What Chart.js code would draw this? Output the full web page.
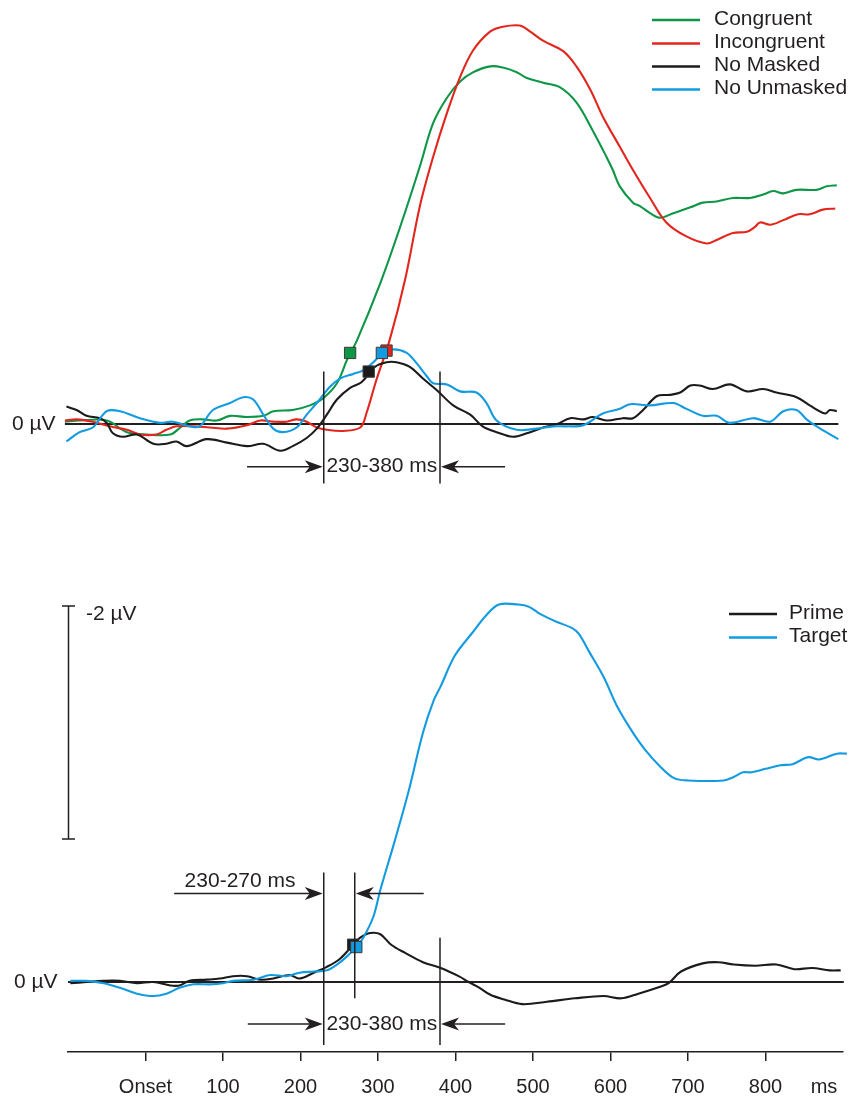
<!DOCTYPE html>
<html>
<head>
<meta charset="utf-8">
<title>ERP waveforms</title>
<script src="https://cdn.jsdelivr.net/npm/chart.js@4.4.1/dist/chart.umd.min.js"></script>
<style>
  html, body { margin: 0; padding: 0; background: #ffffff; }
  #wrap { position: relative; width: 850px; height: 1098px; }
  canvas { display: block; }
</style>
</head>
<body>
<div id="wrap"><canvas id="erp" width="850" height="1098"></canvas></div>
<script>
// ---- Upper panel: masked / unmasked prime conditions (time in ms, amplitude in µV, negative up)
const congruentMs = [-104,-85,-50,-24,2,32,45,57,74,92,109,131,152,165,190,212,229,247,260,273,303,328,354,371,389,406,423,445,461,479,492,513,535,556,577,595,603,612,629,638,651,664,681,703,719,737,758,780,797,810,823,840,866,879,892];
const congruentUv = [-0.02,-0.03,-0.03,0.07,0.09,0.09,0.03,-0.03,-0.04,-0.03,-0.07,-0.06,-0.07,-0.11,-0.12,-0.16,-0.22,-0.35,-0.55,-0.72,-1.21,-1.68,-2.21,-2.58,-2.80,-2.94,-3.02,-3.07,-3.06,-3.02,-2.97,-2.93,-2.89,-2.76,-2.52,-2.29,-2.18,-2.04,-1.90,-1.87,-1.81,-1.77,-1.81,-1.86,-1.90,-1.91,-1.94,-1.94,-1.97,-2.00,-1.98,-2.01,-2.01,-2.04,-2.05];

const incongruentMs = [-104,-89,-68,-46,-24,-7,14,27,40,61,83,105,131,148,165,182,195,208,221,234,255,277,285,298,315,335,354,371,389,406,423,445,461,483,496,513,539,556,574,590,612,629,651,672,698,724,737,758,776,786,793,806,823,842,857,874,890];
const incongruentUv = [-0.03,-0.04,-0.02,0.02,0.05,0.09,0.09,0.05,0.02,0.02,0.03,0.04,0.01,-0.03,-0.02,-0.02,-0.04,-0.02,0.03,0.05,0.06,0.03,-0.09,-0.38,-0.72,-1.24,-1.87,-2.29,-2.67,-2.98,-3.21,-3.37,-3.41,-3.42,-3.37,-3.29,-3.20,-3.07,-2.87,-2.64,-2.38,-2.18,-1.94,-1.73,-1.61,-1.55,-1.58,-1.64,-1.65,-1.69,-1.73,-1.71,-1.75,-1.80,-1.80,-1.84,-1.85];

const noMaskedMs = [-102,-89,-76,-59,-50,-42,-29,-11,10,27,40,53,79,105,131,152,174,190,208,221,234,247,264,279,296,311,324,341,358,376,397,419,435,453,474,492,513,531,548,565,577,595,616,629,642,660,677,690,703,715,732,754,776,797,814,840,857,877,883,892];
const noMaskedUv = [-0.15,-0.12,-0.07,-0.05,-0.01,0.08,0.11,0.09,0.17,0.17,0.15,0.19,0.13,0.16,0.19,0.17,0.23,0.19,0.12,0.04,-0.08,-0.21,-0.31,-0.36,-0.49,-0.53,-0.53,-0.49,-0.39,-0.29,-0.16,-0.08,0.02,0.07,0.11,0.08,0.03,0,-0.05,-0.04,-0.06,-0.03,-0.05,-0.05,-0.12,-0.24,-0.25,-0.27,-0.33,-0.33,-0.30,-0.34,-0.28,-0.30,-0.27,-0.23,-0.16,-0.09,-0.12,-0.11];

const noUnmaskedMs = [-102,-85,-68,-50,-33,-7,19,35,57,70,87,109,126,139,152,165,177,195,208,221,238,251,268,281,294,305,319,337,350,363,371,389,406,427,440,453,479,505,526,543,565,590,612,625,651,681,698,719,737,754,784,806,823,840,853,866,894];
const noUnmaskedUv = [0.15,0.07,0.03,-0.11,-0.11,-0.05,-0.01,-0.02,0.02,0.02,-0.12,-0.18,-0.23,-0.21,-0.08,0.04,0.07,0.03,-0.08,-0.18,-0.32,-0.39,-0.43,-0.46,-0.53,-0.60,-0.64,-0.61,-0.52,-0.41,-0.35,-0.34,-0.28,-0.27,-0.18,-0.03,0.05,0.04,0.02,0.02,0.01,-0.09,-0.13,-0.17,-0.16,-0.18,-0.13,-0.07,-0.07,-0.01,-0.05,-0.02,-0.11,-0.12,-0.04,0.02,0.13];

// onset latencies marked on the upper waveforms
const upperOnsetMs = { congruent: 264, incongruent: 311, noMasked: 288, noUnmasked: 305 };
const upperOnsetUv = { congruent: -0.61, incongruent: -0.63, noMasked: -0.45, noUnmasked: -0.61 };

// ---- Lower panel: prime vs. target
const primeMs = [-97,-76,-54,-33,-11,10,32,44,57,79,96,113,131,148,165,186,199,217,234,251,268,277,290,303,317,335,358,381,404,417,431,445,463,486,518,554,591,614,636,664,675,691,719,739,759,787,814,837,860,883,897];
const primeUv = [0.01,0,-0.01,-0.01,0.01,0,0.03,0.03,-0.01,-0.02,-0.03,-0.05,-0.05,-0.02,-0.03,-0.06,-0.03,-0.08,-0.13,-0.20,-0.32,-0.38,-0.42,-0.41,-0.32,-0.25,-0.17,-0.12,-0.05,0,0.05,0.11,0.15,0.19,0.17,0.14,0.12,0.14,0.10,0.04,0.01,-0.09,-0.16,-0.17,-0.15,-0.14,-0.15,-0.11,-0.12,-0.10,-0.10];

const targetMs = [-97,-76,-54,-33,-11,10,27,44,62,83,100,113,139,161,182,199,217,234,247,260,273,281,294,303,322,340,358,372,381,399,422,440,456,481,495,509,531,550,559,572,591,609,627,645,664,682,700,746,759,771,782,800,819,835,855,869,892,905];
const targetUv = [-0.01,-0.01,0.01,0.05,0.10,0.12,0.10,0.05,0.02,0.02,0.01,-0.01,-0.02,-0.06,-0.05,-0.08,-0.09,-0.10,-0.15,-0.22,-0.31,-0.38,-0.56,-0.79,-1.22,-1.65,-2.14,-2.42,-2.54,-2.80,-3.00,-3.15,-3.24,-3.24,-3.22,-3.16,-3.09,-3.04,-2.99,-2.84,-2.62,-2.36,-2.16,-1.99,-1.85,-1.75,-1.73,-1.73,-1.76,-1.80,-1.80,-1.83,-1.86,-1.87,-1.93,-1.91,-1.96,-1.96];

const lowerOnsetMs = { prime: 268, target: 272 };
const lowerOnsetUv = { prime: -0.32, target: -0.30 };

// analysis windows (ms)
const upperWindow = [230, 380];
const lowerWindowEarly = [230, 270];
const lowerWindowLate = [230, 380];

// x axis
const xTickMs = [0, 100, 200, 300, 400, 500, 600, 700, 800];
const xTickLabels = ['Onset', '100', '200', '300', '400', '500', '600', '700', '800'];
const xUnitLabel = 'ms';

// calibration bar
const scaleBarUv = 2;
const scaleBarLabel = '-2 µV';
const zeroLabel = '0 µV';

// baselines
const zeroUpperMs = [-104, 894];
const zeroLowerMs = [-100, 901];

// ---- styling
const INK = '#231f20';
const GREEN = '#0e9647';
const RED = '#e2261d';
const BLACK = '#1d1b1a';
const BLUE = '#129be0';
const FONT = '"Liberation Sans", Arial, Helvetica, sans-serif';
const LABEL_FONT = '21px ' + FONT;

// vertical layout: both panels share one amplitude scale (px per µV)
const PX_PER_UV = 116.5;
const AREA_BOTTOM = 1052;
const ZERO_UPPER_PX = 424;
const ZERO_LOWER_PX = 982;

const zip = (t, v) => t.map((x, i) => ({ x, y: v[i] }));

function curve(label, t, v, color, axis, order) {
  return {
    label, data: zip(t, v), yAxisID: axis, borderColor: color, backgroundColor: color,
    borderWidth: 2.1, pointRadius: 0, tension: 0.35, clip: false, order
  };
}
function marker(label, ms, uv, color, axis, order) {
  return {
    label, data: [{ x: ms, y: uv }], yAxisID: axis, showLine: false,
    pointStyle: 'rect', pointRadius: 8, backgroundColor: color,
    borderColor: '#3a3a3a', borderWidth: 1, clip: false, order
  };
}
function baseline(t, axis) {
  return {
    label: 'baseline', data: t.map(x => ({ x, y: 0 })), yAxisID: axis,
    borderColor: INK, borderWidth: 2, pointRadius: 0, clip: false, order: 20
  };
}

const datasets = [
  marker('Congruent onset', upperOnsetMs.congruent, upperOnsetUv.congruent, GREEN, 'yTop', 2),
  marker('Incongruent onset', upperOnsetMs.incongruent, upperOnsetUv.incongruent, RED, 'yTop', 2),
  marker('No Masked onset', upperOnsetMs.noMasked, upperOnsetUv.noMasked, BLACK, 'yTop', 2),
  marker('No Unmasked onset', upperOnsetMs.noUnmasked, upperOnsetUv.noUnmasked, BLUE, 'yTop', 1),
  marker('Prime onset', lowerOnsetMs.prime, lowerOnsetUv.prime, BLACK, 'yBot', 2),
  marker('Target onset', lowerOnsetMs.target, lowerOnsetUv.target, BLUE, 'yBot', 1),
  curve('Congruent', congruentMs, congruentUv, GREEN, 'yTop', 9),
  curve('Incongruent', incongruentMs, incongruentUv, RED, 'yTop', 8),
  curve('No Masked', noMaskedMs, noMaskedUv, BLACK, 'yTop', 7),
  curve('No Unmasked', noUnmaskedMs, noUnmaskedUv, BLUE, 'yTop', 6),
  curve('Prime', primeMs, primeUv, BLACK, 'yBot', 7),
  curve('Target', targetMs, targetUv, BLUE, 'yBot', 6),
  baseline(zeroUpperMs, 'yTop'),
  baseline(zeroLowerMs, 'yBot')
];

function drawArrow(ctx, tailX, tipX, y) {
  const d = tipX > tailX ? 1 : -1;
  ctx.beginPath();
  ctx.moveTo(tailX, y);
  ctx.lineTo(tipX - d * 12, y);
  ctx.stroke();
  ctx.beginPath();
  ctx.moveTo(tipX, y);
  ctx.lineTo(tipX - d * 18, y - 6.5);
  ctx.lineTo(tipX - d * 13, y);
  ctx.lineTo(tipX - d * 18, y + 6.5);
  ctx.closePath();
  ctx.fill();
}

function vline(ctx, x, y1, y2) {
  ctx.beginPath();
  ctx.moveTo(x, y1);
  ctx.lineTo(x, y2);
  ctx.stroke();
}

const annotations = {
  id: 'erpAnnotations',
  afterDraw(chart) {
    const { ctx } = chart;
    const xs = chart.scales.x, yt = chart.scales.yTop, yb = chart.scales.yBot;
    const X = v => xs.getPixelForValue(v);
    ctx.save();
    ctx.strokeStyle = INK;
    ctx.fillStyle = INK;
    ctx.lineWidth = 1.5;
    ctx.font = LABEL_FONT;
    ctx.textBaseline = 'middle';

    // upper window
    const u0 = X(upperWindow[0]), u1 = X(upperWindow[1]);
    vline(ctx, u0, yt.getPixelForValue(-0.45), yt.getPixelForValue(0.51));
    vline(ctx, u1, yt.getPixelForValue(-0.45), yt.getPixelForValue(0.51));
    const ua = yt.getPixelForValue(0.366);
    drawArrow(ctx, X(131), u0 - 1, ua);
    drawArrow(ctx, X(464), u1 + 1, ua);
    ctx.textAlign = 'center';
    ctx.fillText(upperWindow[0] + '-' + upperWindow[1] + ' ms', (u0 + u1) / 2, ua);

    // lower windows
    const e0 = X(lowerWindowEarly[0]), e1 = X(lowerWindowEarly[1]);
    const l1 = X(lowerWindowLate[1]);
    vline(ctx, e0, yb.getPixelForValue(-0.94), yb.getPixelForValue(0.54));
    vline(ctx, e1, yb.getPixelForValue(-0.94), yb.getPixelForValue(0.14));
    vline(ctx, l1, yb.getPixelForValue(-0.38), yb.getPixelForValue(0.54));
    const ea = yb.getPixelForValue(-0.76);
    drawArrow(ctx, X(37), e0 - 1, ea);
    drawArrow(ctx, X(359), e1 + 1, ea);
    ctx.textAlign = 'center';
    ctx.fillText(lowerWindowEarly[0] + '-' + lowerWindowEarly[1] + ' ms', X(122), yb.getPixelForValue(-0.867));
    const la = yb.getPixelForValue(0.36);
    drawArrow(ctx, X(132), e0 - 1, la);
    drawArrow(ctx, X(464), l1 + 1, la);
    ctx.fillText(lowerWindowLate[0] + '-' + lowerWindowLate[1] + ' ms', (e0 + l1) / 2, la);

    // zero labels
    ctx.textAlign = 'left';
    ctx.fillText(zeroLabel, 12, yt.getPixelForValue(0));
    ctx.fillText(zeroLabel, 14, yb.getPixelForValue(0));

    // calibration bar (length = scaleBarUv)
    const barX = 68.5;
    const barBottom = yb.getPixelForValue(-1.227);
    const barTop = yb.getPixelForValue(-1.227 - scaleBarUv);
    vline(ctx, barX, barTop, barBottom);
    ctx.beginPath();
    ctx.moveTo(barX - 6.5, barTop); ctx.lineTo(barX + 6.5, barTop);
    ctx.moveTo(barX - 6.5, barBottom); ctx.lineTo(barX + 6.5, barBottom);
    ctx.stroke();
    ctx.fillText(scaleBarLabel, 86, barTop + 8);

    // unit label on time axis, on the tick-label row
    ctx.textAlign = 'center';
    ctx.font = '20px ' + FONT;
    ctx.fillText(xUnitLabel, 824, chart.chartArea.bottom + 35);

    // legends
    ctx.font = LABEL_FONT;
    const legend = (items, lx0, lx1, tx, ys) => {
      ctx.textAlign = 'left';
      ctx.textBaseline = 'middle';
      items.forEach((it, i) => {
        ctx.strokeStyle = it.color;
        ctx.lineWidth = 2.5;
        ctx.beginPath();
        ctx.moveTo(lx0, ys[i]); ctx.lineTo(lx1, ys[i]);
        ctx.stroke();
        ctx.fillStyle = INK;
        ctx.fillText(it.label, tx, ys[i] - 1);
      });
    };
    legend([
      { label: 'Congruent', color: GREEN },
      { label: 'Incongruent', color: RED },
      { label: 'No Masked', color: BLACK },
      { label: 'No Unmasked', color: BLUE }
    ], 652, 700, 714, [20, 43.5, 66.5, 89.5]);
    legend([
      { label: 'Prime', color: BLACK },
      { label: 'Target', color: BLUE }
    ], 729, 777, 789, [614, 637.5]);

    ctx.restore();
  }
};

new Chart(document.getElementById('erp'), {
  type: 'line',
  data: { datasets },
  options: {
    responsive: false,
    animation: false,
    events: [],
    layout: { autoPadding: false, padding: { left: 68, right: 7, top: 0, bottom: 0 } },
    plugins: { legend: { display: false }, tooltip: { enabled: false } },
    scales: {
      x: {
        type: 'linear', min: -100, max: 900,
        afterBuildTicks: s => { s.ticks = xTickMs.map(v => ({ value: v })); },
        afterFit: s => { s.height = 1098 - AREA_BOTTOM; },
        ticks: {
          autoSkip: false, maxRotation: 0, minRotation: 0, padding: 14,
          color: INK, font: { family: FONT, size: 20 },
          callback: (v) => xTickLabels[xTickMs.indexOf(v)]
        },
        grid: { drawOnChartArea: false, drawTicks: true, tickLength: 9, color: INK, lineWidth: 1.5 },
        border: { display: true, color: INK, width: 1.5 }
      },
      yTop: {
        type: 'linear', display: false, reverse: true,
        min: -ZERO_UPPER_PX / PX_PER_UV, max: (AREA_BOTTOM - ZERO_UPPER_PX) / PX_PER_UV
      },
      yBot: {
        type: 'linear', display: false, reverse: true,
        min: -ZERO_LOWER_PX / PX_PER_UV, max: (AREA_BOTTOM - ZERO_LOWER_PX) / PX_PER_UV
      }
    }
  },
  plugins: [annotations]
});
</script>
</body>
</html>
